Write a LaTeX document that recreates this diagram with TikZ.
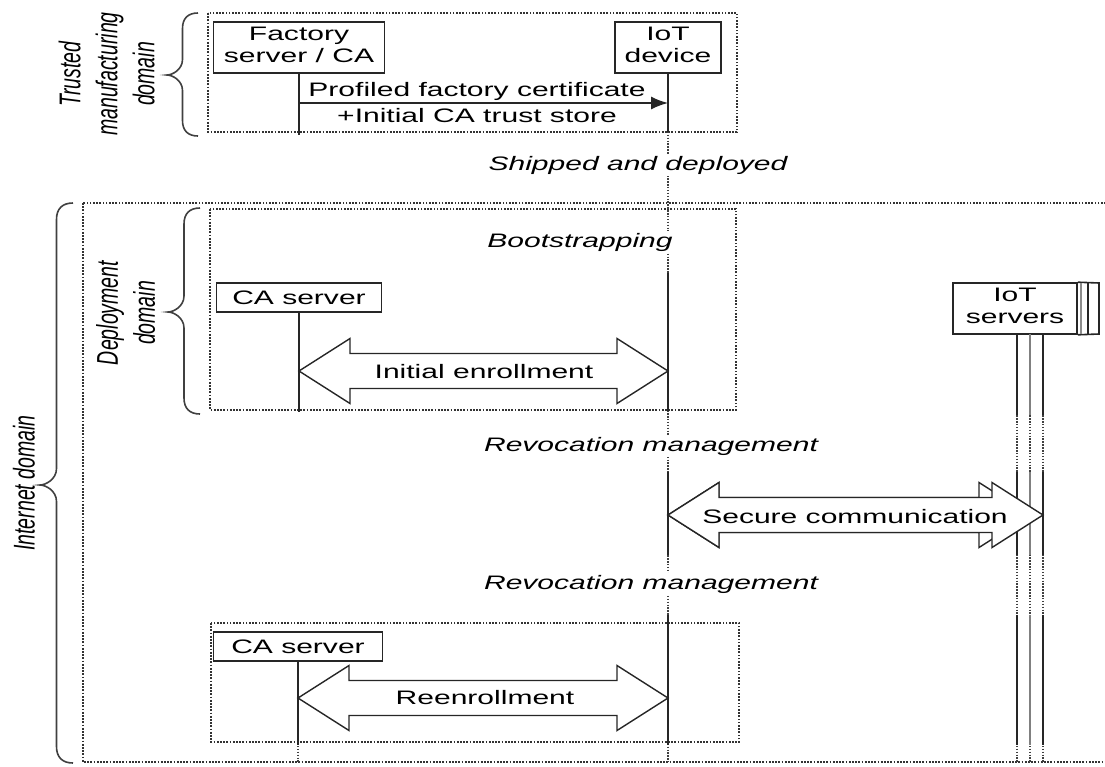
\documentclass[tikz,border=0pt]{standalone}
\usepackage{graphicx}
\usepackage{fontspec}
\setmainfont{Liberation Sans}
\usetikzlibrary{arrows.meta,calc}

% horizontally widened lettering (upright text) and the same for rotated text
\newcommand{\wid}[1]{\scalebox{1.54}[1]{#1}}
\newcommand{\tall}[1]{\scalebox{1}[1.54]{#1}}

% head length, head half-height, shaft half-height of the wide double arrows
\def\ahl{51}
\def\ahh{32.5}
\def\ash{17.5}
\newcommand\dblarrow[3][]{%
  \draw[fat,#1] (#2) -- ($(#2)+(\ahl,-\ahh)$) -- ($(#2)+(\ahl,-\ash)$)
    -- ($(#3)+(-\ahl,-\ash)$) -- ($(#3)+(-\ahl,-\ahh)$) -- (#3)
    -- ($(#3)+(-\ahl,\ahh)$) -- ($(#3)+(-\ahl,\ash)$)
    -- ($(#2)+(\ahl,\ash)$) -- ($(#2)+(\ahl,\ahh)$) -- cycle;}

% left-opening curly brace: #1 x of the ends, #2 top y, #3 bottom y, #4 x of the tip, #5 y of the tip
\newcommand\curly[5]{%
  \pgfmathsetmacro\cArm{(#1+#4)/2}%
  \pgfmathsetmacro\cR{#1-\cArm}%
  \draw[brc] (#1,#2) .. controls (\cArm+0.35*\cR,#2) and (\cArm,#2+0.35*\cR) .. (\cArm,#2+\cR)
    -- (\cArm,#5-\cR) .. controls (\cArm,#5-0.35*\cR) and (#4+0.35*\cR,#5) .. (#4,#5)
    .. controls (#4+0.35*\cR,#5) and (\cArm,#5+0.35*\cR) .. (\cArm,#5+\cR)
    -- (\cArm,#3-\cR) .. controls (\cArm,#3-0.35*\cR) and (\cArm+0.35*\cR,#3) .. (#1,#3);}

\begin{document}
\begin{tikzpicture}[x=1pt,y=-1pt,
  every node/.style={font=\fontsize{19.5}{22}\selectfont, inner sep=0pt},
  obj/.style={draw=black!85, line width=1.6pt, fill=white},
  zone/.style={draw=black!80, line width=1.4pt, dash pattern=on 1.7pt off 1.5pt},
  life/.style={draw=black!85, line width=1.7pt},
  lifedot/.style={draw=black!75, line width=1.4pt, dash pattern=on 1.5pt off 1.4pt},
  fat/.style={draw=black!85, line width=1.4pt, fill=white, line join=miter},
  msg/.style={draw=black!85, line width=1.4pt, -{Latex[length=17pt,width=13pt]}},
  brc/.style={draw=black!75, line width=1.6pt},
  lbl/.style={fill=white, inner sep=2pt, font=\fontsize{19.5}{22}\selectfont\itshape},
  side/.style={rotate=90, font=\fontsize{19.5}{24}\selectfont\itshape},
]
\useasboundingbox (0,0) rectangle (1105,766);

% ---------- domains ----------
\draw[zone] (208,13) rectangle (737,132);
\draw[zone] (83,203) rectangle (1125,762);
\draw[zone] (210,209) rectangle (736,410);
\draw[zone] (211,623) rectangle (739,742);

\curly{198}{13}{136}{167}{75}
\curly{200}{208}{414}{168}{312}
\curly{73}{203}{763}{40}{485}

\node[side] (ltrust) at (110,74) {\tall{\begin{tabular}{@{}c@{}}Trusted\\manufacturing\\domain\end{tabular}}};
\node[side] (ldeploy) at (129,313) {\tall{\begin{tabular}{@{}c@{}}Deployment\\domain\end{tabular}}};
\node[side] (linet) at (24,483) {\tall{Internet domain}};

% ---------- objects ----------
\node[obj, minimum width=171, minimum height=51] (fac) at (299,47.5)
  {\wid{\begin{tabular}{@{}c@{}}Factory\\server / CA\end{tabular}}};
\node[obj, minimum width=106, minimum height=51] (iot) at (668,47.5)
  {\wid{\begin{tabular}{@{}c@{}}IoT\\device\end{tabular}}};
\node[obj, minimum width=165, minimum height=29] (ca1) at (299,297.5) {\wid{CA server}};
\node[obj, minimum width=169, minimum height=29] (ca2) at (298,646.5) {\wid{CA server}};
\node[obj, minimum width=124, minimum height=51] (srv) at (1015,308.5)
  {\wid{\begin{tabular}{@{}c@{}}IoT\\servers\end{tabular}}};
% stacked copies behind the server box
\draw[draw=black!85, line width=1.6pt] (srv.north east) -- (1099,283) -- (1099,334) -- (srv.south east);
\draw[draw=black!45, line width=1.4pt] (1081,283) -- (1081,334);
\draw[draw=black!85, line width=1.4pt] (1088,283) -- (1088,334);

% ---------- lifelines ----------
\coordinate (facEnd) at (299,135);
\coordinate (ca1End) at (299,412);
\coordinate (ca2End) at (298,762);
\coordinate (iotEnd) at (668,762);

\draw[life] (fac.south) -- (facEnd);
\draw[life] (ca1.south) -- (ca1End);
\draw[lifedot] (ca2.south) -- (ca2End);
\draw[life] (ca2.south) -- (298,745);

\draw[lifedot] (iot.south) -- (iotEnd);
\foreach \a/\b in {73/132,273/411,472/555,615/745}
  \draw[life] (668,\a) -- (668,\b);

\foreach \x/\c in {1017/85,1030/50,1043/85}{
  \draw[lifedot] (\x,334) -- (\x,762);
  \foreach \a/\b in {334/415,472/555,615/745}
    \draw[life, draw=black!\c] (\x,\a) -- (\x,\b);
}

% ---------- messages ----------
\coordinate (m1a) at (299,103);
\coordinate (m1b) at (668,103);
\draw[msg] (m1a) -- (m1b);
\node (t1) at (477,91) {\wid{Profiled factory certificate}};
\node (t2) at (477,116) {\wid{+Initial CA trust store}};

\coordinate (ieL) at (299,371);
\coordinate (ieR) at (668,371);
\dblarrow{ieL}{ieR}
\node (tie) at (484,372) {\wid{Initial enrollment}};

\coordinate (scL) at (668,515);
\coordinate (scA) at (1030,515);
\coordinate (scR) at (1043,515);
\dblarrow{scL}{scA}
\dblarrow{scL}{scR}
\node (tsc) at (855,517) {\wid{Secure communication}};

\coordinate (reL) at (298,698);
\coordinate (reR) at (668,698);
\dblarrow{reL}{reR}
\node (tre) at (485,698) {\wid{Reenrollment}};

% ---------- phase captions ----------
\node[lbl] (ship) at (638,165) {\wid{Shipped and deployed}};
\node[lbl] (boot) at (580,242) {\wid{Bootstrapping}};
\node[lbl] (rev1) at (651,446) {\wid{Revocation management}};
\node[lbl] (rev2) at (651,584) {\wid{Revocation management}};
\end{tikzpicture}
\end{document}
